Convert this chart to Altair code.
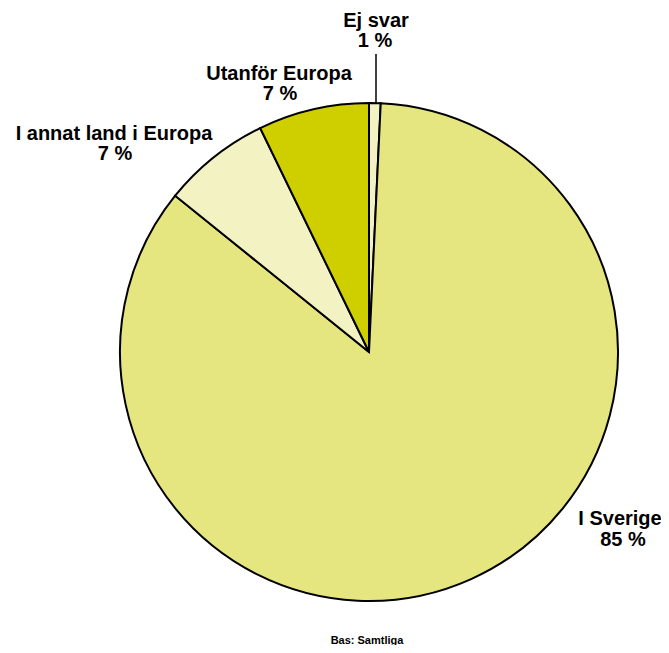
import altair as alt
import pandas as pd

categories = ["Ej svar", "I Sverige", "I annat land i Europa", "Utanför Europa"]
values = [0.75, 85.05, 7.0, 7.2]
pct_labels = ["1 %", "85 %", "7 %", "7 %"]
colors = ["#f2f2c2", "#e6e680", "#f2f2c2", "#cfcf00"]
order_idx = [0, 1, 2, 3]

df = pd.DataFrame({"cat": categories, "value": values, "pct": pct_labels, "ord": order_idx})

CX, CY, R = 361, 344, 249
FONT = "Liberation Sans"
FS = 20

pie = alt.Chart(df).mark_arc(outerRadius=R, stroke="black", strokeWidth=2).encode(
    theta=alt.Theta("value:Q", stack=True),
    order=alt.Order("ord:Q", sort="ascending"),
    color=alt.Color("cat:N", scale=alt.Scale(domain=categories, range=colors), legend=None),
    x=alt.value(CX),
    y=alt.value(CY),
)

leader = alt.Chart(df).transform_filter(alt.datum.cat == "Ej svar").mark_rule(
    color="black", strokeWidth=1.5
).encode(x=alt.value(368), y=alt.value(46), y2=alt.value(95))

label_pos = {
    "Ej svar": (368, 19, 367, 39),
    "Utanför Europa": (271, 72, 272, 92),
    "I annat land i Europa": (106, 132, 107, 152),
    "I Sverige": (612, 517, 615, 538),
}

layers = [pie, leader]
for c, (x1, y1, x2, y2) in label_pos.items():
    base = alt.Chart(df).transform_filter(alt.datum.cat == c)
    layers.append(base.mark_text(font=FONT, fontSize=FS, fontWeight="bold", align="center",
                                 baseline="alphabetic", color="black").encode(
        x=alt.value(x1), y=alt.value(y1), text="cat:N"))
    layers.append(base.mark_text(font=FONT, fontSize=FS, fontWeight="bold", align="center",
                                 baseline="alphabetic", color="black").encode(
        x=alt.value(x2), y=alt.value(y2), text="pct:N"))

bas = alt.Chart(pd.DataFrame({"t": ["Bas: Samtliga"]})).mark_text(
    font=FONT, fontSize=11, fontWeight="bold", align="center", baseline="alphabetic", color="black"
).encode(x=alt.value(359), y=alt.value(636), text="t:N")
layers.append(bas)

chart = alt.layer(*layers).properties(
    width=653, height=637, padding=0, autosize=alt.AutoSizeParams(type="none")
).configure_view(stroke=None)

chart.save("out.html", embed_options={"renderer": "svg", "actions": False})
